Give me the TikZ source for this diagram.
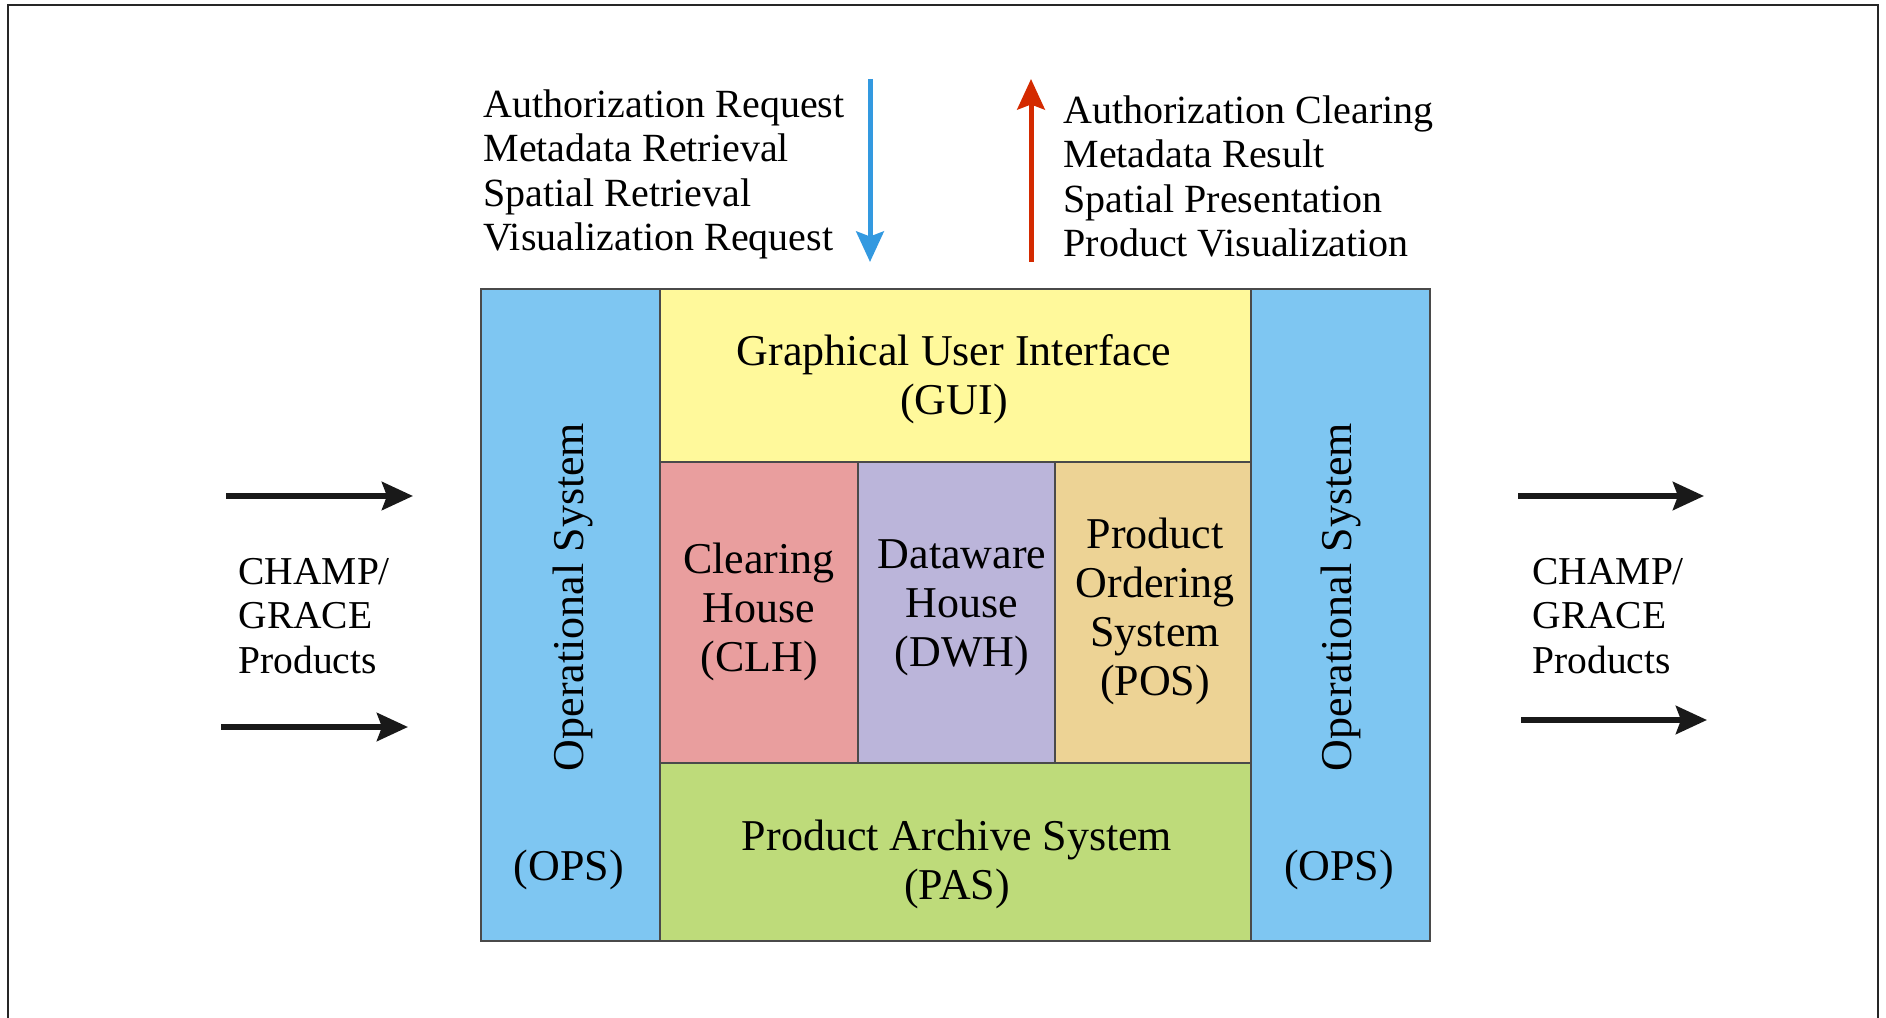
\documentclass[tikz,border=0pt]{standalone}
\usepackage{fontspec}
\setmainfont{Liberation Serif}
\usetikzlibrary{arrows.meta}
\definecolor{opsblue}{HTML}{7EC6F2}
\definecolor{guiyellow}{HTML}{FFF99B}
\definecolor{clhpink}{HTML}{E99E9E}
\definecolor{dwhlav}{HTML}{BBB5DA}
\definecolor{postan}{HTML}{EDD395}
\definecolor{pasgreen}{HTML}{BEDB7A}
\definecolor{arrblue}{HTML}{3399E0}
\definecolor{arrred}{HTML}{D42A00}
\definecolor{edgegray}{HTML}{4A4A4A}
\tikzset{
  blockbox/.style={draw=edgegray, line width=0.5pt, inner sep=0pt, outer sep=0pt, align=center,
    font=\fontsize{17.6}{19.6}\selectfont},
  boxtext/.style={inner sep=0pt, align=center, font=\fontsize{17.6}{19.6}\selectfont},
  sidetext/.style={inner sep=0pt, align=left, anchor=west, font=\fontsize{15.8}{17.8}\selectfont},
  toptext/.style={inner sep=0pt, align=left, anchor=north west, font=\fontsize{16}{17.8}\selectfont},
  flowarrow/.style={line width=2.4pt, draw=black!90, -{Stealth[length=12.4pt, width=11.2pt, inset=2pt]}},
  vertarrow/.style={line width=2pt, -{Stealth[length=12.2pt, width=11pt, inset=2pt]}},
}
\begin{document}
\begin{tikzpicture}[x=0.4pt, y=-0.4pt]
\useasboundingbox (0,0) rectangle (1886,1018);
% frame
\draw[line width=0.8pt, draw=black!85] (8,1018) -- (8,5) -- (1878,5) -- (1878,1018);

% blocks
\node[blockbox, fill=opsblue, minimum width=71.6pt, minimum height=260.8pt] (opsl) at (570.5,615) {};
\node[blockbox, fill=opsblue, minimum width=71.6pt, minimum height=260.8pt] (opsr) at (1340.5,615) {};
\node[blockbox, fill=guiyellow, minimum width=236.4pt, minimum height=69.2pt] (gui) at (955.5,375.5) {};
\node[blockbox, fill=clhpink, minimum width=79.2pt, minimum height=120.4pt] (clh) at (759,612.5) {};
\node[blockbox, fill=dwhlav, minimum width=78.8pt, minimum height=120.4pt] (dwh) at (956.5,612.5) {};
\node[blockbox, fill=postan, minimum width=78.4pt, minimum height=120.4pt] (pos) at (1153,612.5) {};
\node[blockbox, fill=pasgreen, minimum width=236.4pt, minimum height=71.2pt] (pas) at (955.5,852) {};

% block texts
\node[boxtext] (guit) at (954,379) {Graphical User Interface\\(GUI)};
\node[boxtext] (clht) at (759,612) {Clearing\\House\\(CLH)};
\node[boxtext] (dwht) at (962,608) {Dataware\\House\\(DWH)};
\node[boxtext] (post) at (1155,611) {Product\\Ordering\\System\\(POS)};
\node[boxtext] (past) at (957,864) {Product Archive System\\(PAS)};
\node[boxtext, rotate=90] (opslt) at (572.5,597) {Operational System};
\node[boxtext] (opslp) at (569,870) {(OPS)};
\node[boxtext, rotate=90] (opsrt) at (1340.5,597) {Operational System};
\node[boxtext] (opsrp) at (1339,870) {(OPS)};

% top texts
\node[toptext] (reqt) at (483,89) {Authorization Request\\Metadata Retrieval\\Spatial Retrieval\\Visualization Request};
\node[toptext] (rest) at (1063,95) {Authorization Clearing\\Metadata Result\\Spatial Presentation\\Product Visualization};

\coordinate (ba) at (870,79);
\coordinate (bb) at (870,262);
\coordinate (ra) at (1031,262);
\coordinate (rb) at (1031,79);
\draw[vertarrow, draw=arrblue, fill=arrblue] (ba) -- (bb);
\draw[vertarrow, draw=arrred, fill=arrred] (ra) -- (rb);

% side texts
\node[sidetext] (champl) at (238,616) {CHAMP/\\GRACE\\Products};
\node[sidetext] (champr) at (1532,616) {CHAMP/\\GRACE\\Products};

\coordinate (l1a) at (226,496);
\coordinate (l1b) at (413,496);
\coordinate (l2a) at (221,727);
\coordinate (l2b) at (408,727);
\coordinate (r1a) at (1518,496);
\coordinate (r1b) at (1704,496);
\coordinate (r2a) at (1521,720);
\coordinate (r2b) at (1707,720);
\draw[flowarrow, fill=black!90] (l1a) -- (l1b);
\draw[flowarrow, fill=black!90] (l2a) -- (l2b);
\draw[flowarrow, fill=black!90] (r1a) -- (r1b);
\draw[flowarrow, fill=black!90] (r2a) -- (r2b);
\end{tikzpicture}
\end{document}
